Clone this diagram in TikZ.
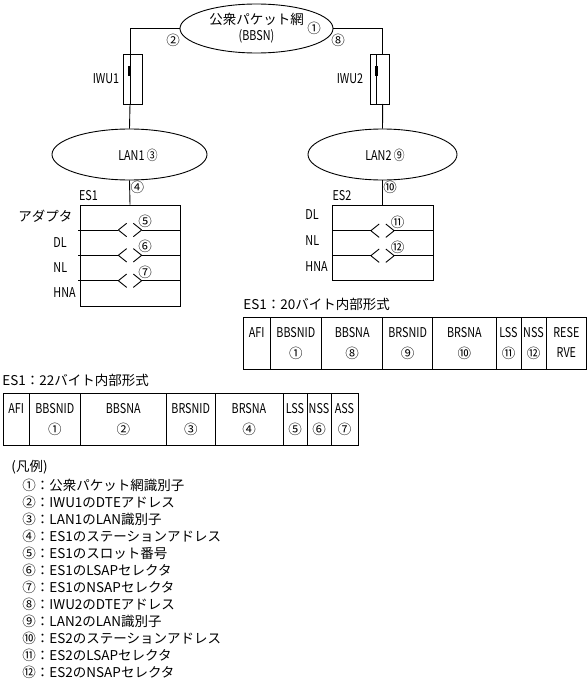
\documentclass[tikz,border=0pt]{standalone}
\usepackage{fontspec}
\setmainfont{Noto Sans CJK JP}
\newfontfamily\narrowfont{Noto Sans CJK JP}[FakeStretch=0.8]
\usetikzlibrary{shapes.geometric}

\tikzset{
  lbl/.style={inner sep=0pt, font=\fontsize{13.5}{16}\selectfont},
  tag/.style={inner sep=0pt, font=\narrowfont\fontsize{13.5}{16}\selectfont},
  net/.style={draw, ellipse, inner sep=0pt, align=center, font=\fontsize{13.5}{16}\selectfont},
  iwu/.style={draw, rectangle, inner sep=0pt, minimum width=19pt, minimum height=50pt},
  es/.style={draw, rectangle, inner sep=0pt},
  sap/.pic={
    \draw (-11.7,0) -- (-3.3,-6.7) (-11.7,0) -- (-3.3,6.7);
    \draw (11.7,0) -- (3.3,-6.7) (11.7,0) -- (3.3,6.7);
  },
}

\begin{document}
\begin{tikzpicture}[x=1pt, y=-1pt, line width=0.9pt]
\useasboundingbox (0,0) rectangle (588,688);

% networks
\node[net, minimum width=153pt, minimum height=49pt] (bbsn) at (256.5,28.5) {公衆パケット網\\\narrowfont(BBSN)};
\node[net, minimum width=155pt, minimum height=51pt] (lan1) at (129.5,154.5) {};
\node[net, minimum width=149pt, minimum height=51pt] (lan2) at (382.5,154.5) {};
\node[tag] (lan1txt) at (138,155) {LAN1 ③};
\node[tag] (lan2txt) at (385,155) {LAN2 ⑨};
\node[lbl] (n1) at (314,28) {①};

% interworking units
\node[iwu] (iwu1) at (132.8,79) {};
\node[iwu] (iwu2) at (380,79) {};
\coordinate (iwu1top) at (130,54);
\coordinate (iwu1bot) at (130,104);
\coordinate (iwu2top) at (382.7,54);
\coordinate (iwu2bot) at (382.7,104);
\draw (iwu1top) -- (iwu1bot);
\draw (376,54) -- (376,104);
\fill (128.3,66) rectangle (130.9,76);
\fill (375,66) rectangle (377.6,76);
\node[tag] (iwu1txt) at (106,79) {IWU1};
\node[tag] (iwu2txt) at (350,79) {IWU2};

\draw (bbsn.west) -| (iwu1top);
\draw (bbsn.east) -| (iwu2top);
\draw (iwu1bot) -- (lan1.north);
\draw (iwu2bot) -- (lan2.north);
\node[lbl] (n2) at (173,40) {②};
\node[lbl] (n8) at (338,40) {⑧};

% end systems
\node[es, minimum width=100pt, minimum height=101pt] (es1) at (130,255.5) {};
\node[es, minimum width=101pt, minimum height=75pt] (es2) at (382.5,242.5) {};
\draw (lan1.south) -- (es1.north);
\draw (lan2.south) -- (es2.north);
\node[lbl] (n4) at (137.3,187.5) {④};
\node[lbl] (n10) at (390,187.5) {⑩};
\node[tag] (es1txt) at (88.5,196) {ES1};
\node[tag] (es2txt) at (342,196) {ES2};

\foreach \y/\t in {230/⑤,255.3/⑥,280.7/⑦} {
  \draw (78,\y) -- (118.3,\y) (141.7,\y) -- (180,\y);
  \pic at (130,\y) {sap};
  \node[lbl] at (145,\y-8.5) {\t};
}
\foreach \y/\t in {230.7/⑪,255.7/⑫} {
  \draw (332,\y) -- (370.8,\y) (394.2,\y) -- (433,\y);
  \pic at (382.5,\y) {sap};
  \node[lbl] at (397.5,\y-8.5) {\t};
}

\node[lbl, anchor=west] (adp1) at (18,216) {アダプタ};
\node[tag, anchor=west] (dl1) at (53,243) {DL};
\node[tag, anchor=west] (nl1) at (53,268) {NL};
\node[tag, anchor=west] (hna1) at (53,293) {HNA};
\node[tag, anchor=west] (dl2) at (305,215) {DL};
\node[tag, anchor=west] (nl2) at (305,241) {NL};
\node[tag, anchor=west] (hna2) at (305,267) {HNA};

% 20 byte format
\node[lbl, anchor=west] (fmt20) at (243,304) {ES1：20バイト内部形式};
\foreach \a/\b/\u/\v [count=\i] in {243.3/270/AFI/{}, 270/321.7/BBSNID/①, 321.7/382.7/BBSNA/⑧,
    382.7/432.7/BRSNID/⑨, 432.7/496/BRSNA/⑩, 496/521/LSS/⑪, 521/546/NSS/⑫, 546/586.7/RESE/{\narrowfont RVE}} {
  \draw (\a,317.3) rectangle (\b,369.3);
  \node[tag] (fa\i) at ({(\a+\b)/2},333) {\u};
  \node[lbl] (fb\i) at ({(\a+\b)/2},353) {\v};
}

% 22 byte format
\node[lbl, anchor=west] (fmt22) at (2,380) {ES1：22バイト内部形式};
\foreach \a/\b/\u/\v [count=\i] in {3/29.5/AFI/{}, 29.5/80/BBSNID/①, 80/166.5/BBSNA/②,
    166.5/215/BRSNID/③, 215/283/BRSNA/④, 283/307/LSS/⑤, 307/331/NSS/⑥, 331/358/ASS/⑦} {
  \draw (\a,393) rectangle (\b,445);
  \node[tag] (ga\i) at ({(\a+\b)/2},409) {\u};
  \node[lbl] (gb\i) at ({(\a+\b)/2},429) {\v};
}

% legend
\node[lbl, anchor=west] (legend) at (11,467) {(凡例)};
\foreach \t [count=\i] in {①：公衆パケット網識別子, ②：IWU1のDTEアドレス, ③：LAN1のLAN識別子,
    ④：ES1のステーションアドレス, ⑤：ES1のスロット番号, ⑥：ES1のLSAPセレクタ,
    ⑦：ES1のNSAPセレクタ, ⑧：IWU2のDTEアドレス, ⑨：LAN2のLAN識別子,
    ⑩：ES2のステーションアドレス, ⑪：ES2のLSAPセレクタ, ⑫：ES2のNSAPセレクタ} {
  \node[lbl, anchor=base west] (leg\i) at (22,{490+17.05*(\i-1)}) {\t};
}
\end{tikzpicture}
\end{document}
